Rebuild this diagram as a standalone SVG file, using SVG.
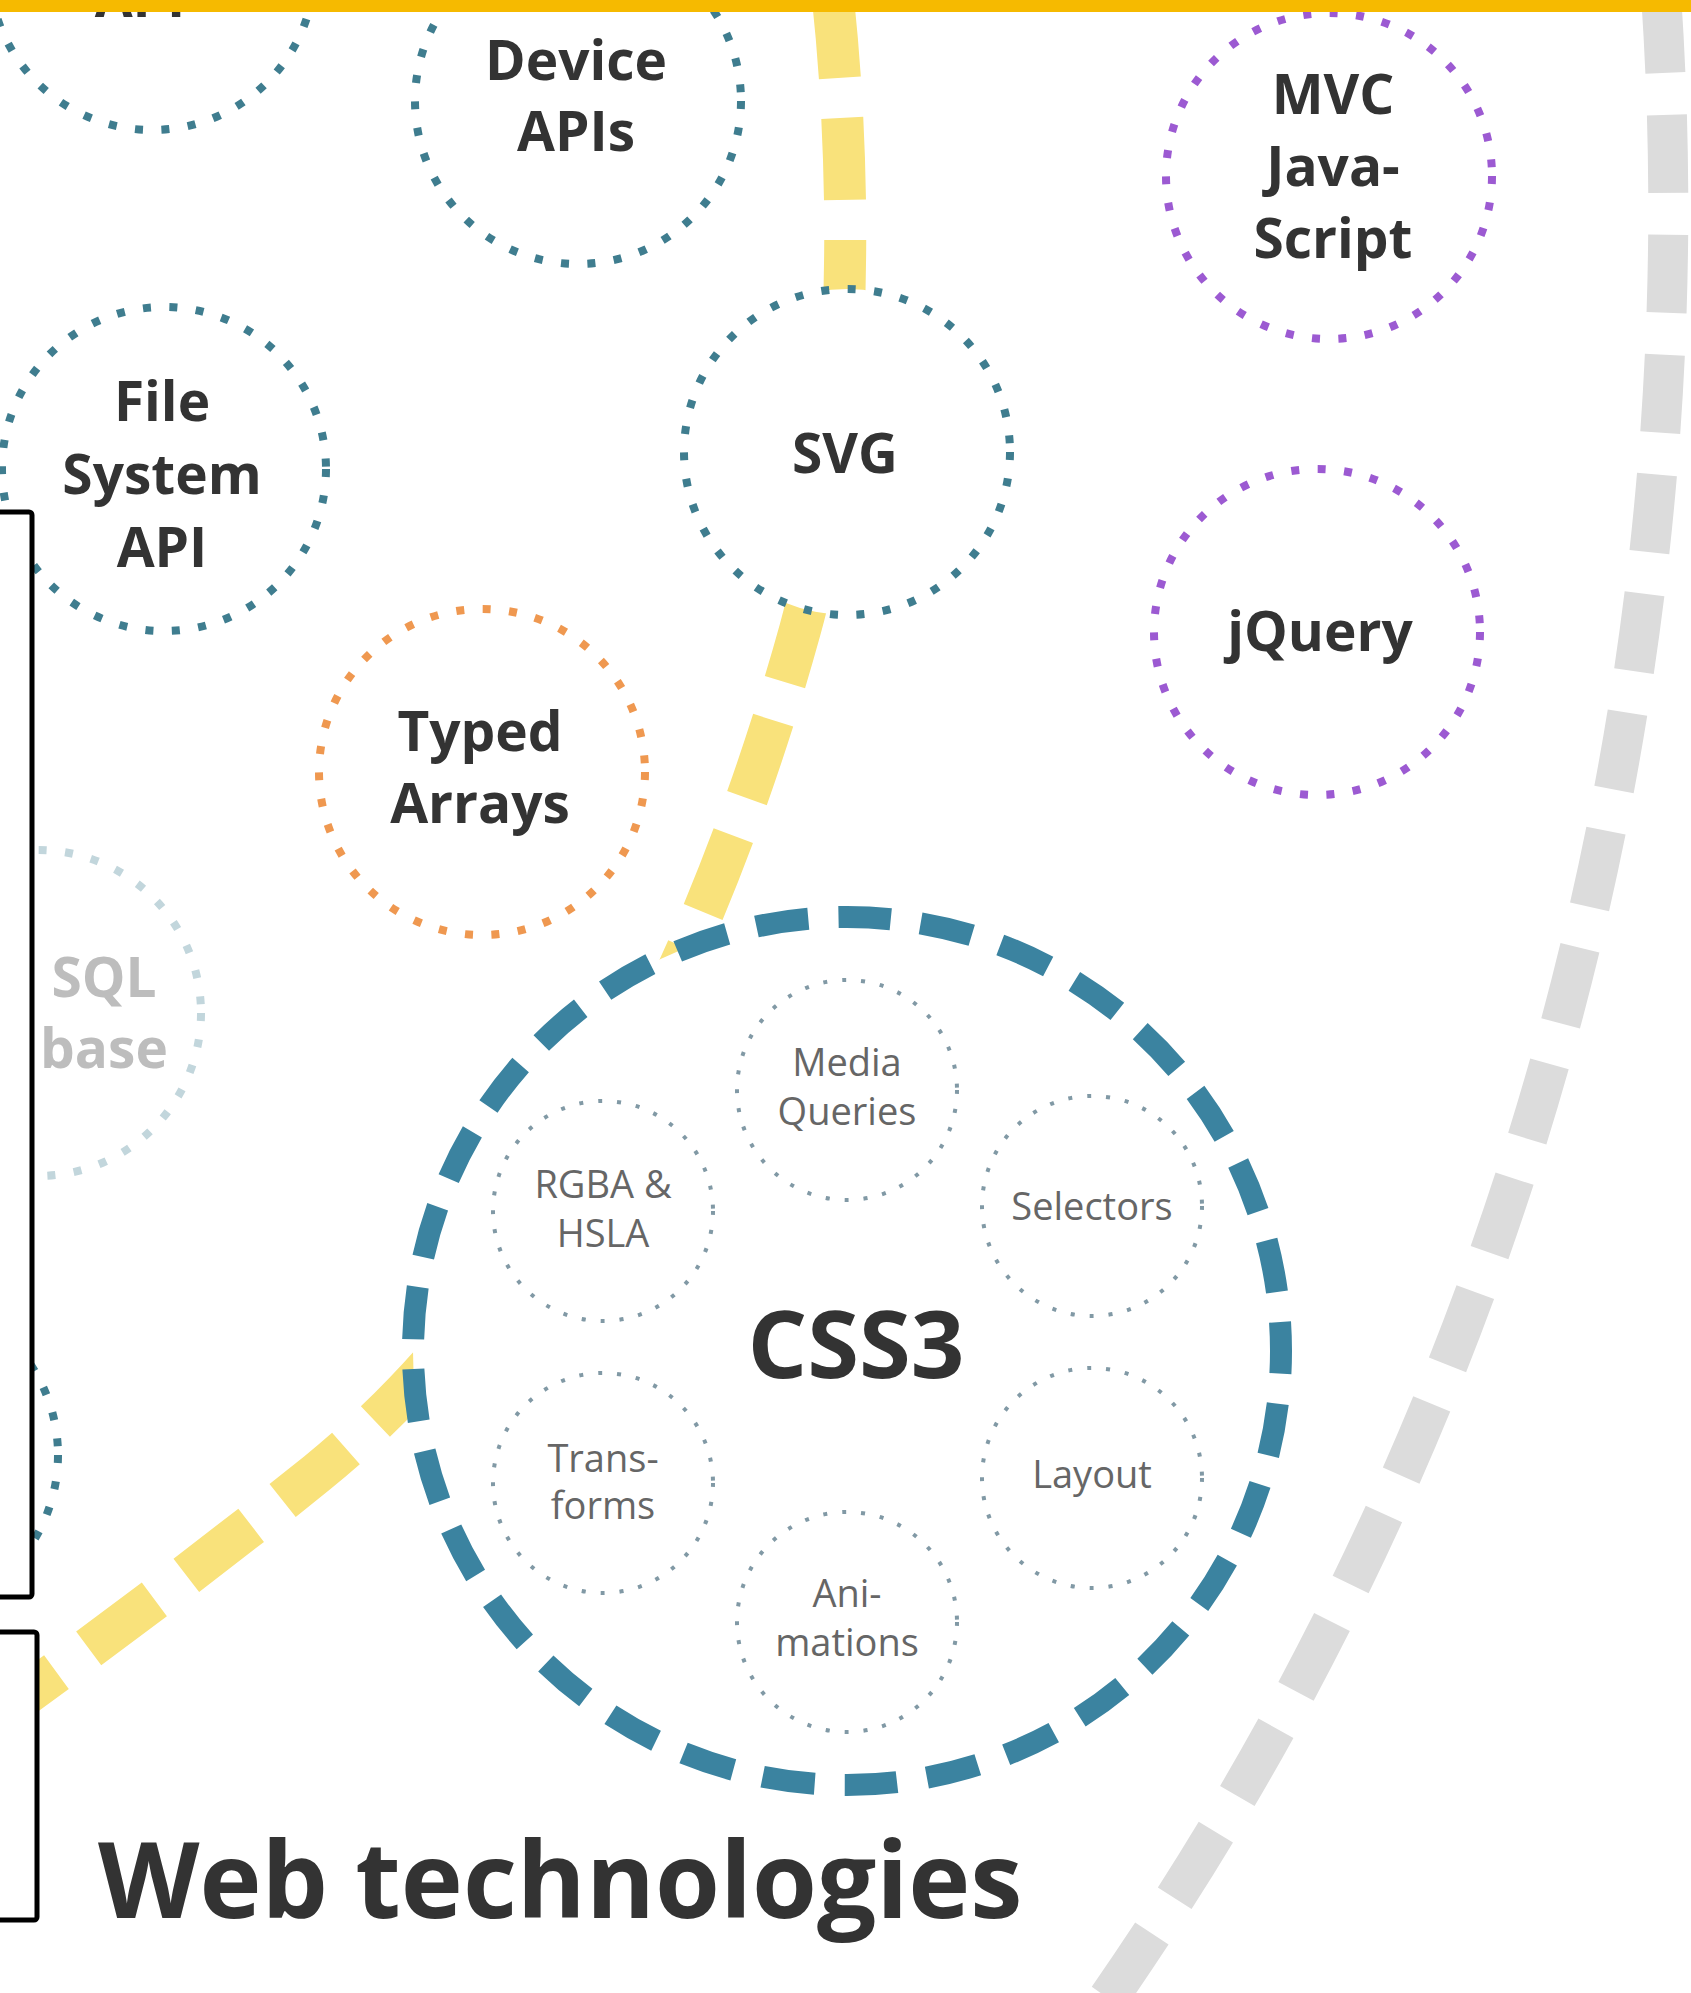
<svg xmlns="http://www.w3.org/2000/svg" width="1691" height="1993" viewBox="0 0 1691 1993">
<style>
.bg{fill:#ffffff}
.outer{fill:#ffffff;stroke-width:8;stroke-dasharray:8 18.5}
.teal{stroke:#3F7D8F}
.purple{stroke:#9C5AD2}
.orange{stroke:#EF9850}
.faded{stroke:#C2D6DC}
.inner{fill:#ffffff;stroke:#8199A5;stroke-width:4;stroke-dasharray:4 15}
.lbl{font-family:"Open Sans","Liberation Sans",sans-serif;font-weight:700;font-size:55px;fill:#333333;text-anchor:middle}
.fadedtxt{fill:#BDBDBD}
.sub{font-family:"Open Sans","Liberation Sans",sans-serif;font-weight:400;font-size:38px;fill:#666666;text-anchor:middle}
.mask{fill:#ffffff;stroke:#000000;stroke-width:5}
</style>
<rect class="bg" x="0" y="0" width="1691" height="1993"/>
<g id="connectors" fill="none">
  <path id="gray-arc" d="M 1660 -20 A 3141 3141 0 0 1 1100 2010" stroke="#DCDCDC" stroke-width="40" stroke-dasharray="78 42" stroke-dashoffset="-15"/>
  <path id="yellow-line" d="M 832 -10 C 850 150 858 420 800 630 C 720 919 566 1272 317 1473 C 239 1536 130 1620 -40 1742" stroke="#F9E27B" stroke-width="42" stroke-dasharray="82 40" stroke-dashoffset="-6.5"/>
</g>
<g id="node-api">
  <circle class="outer teal" cx="152" cy="-33" r="163"/>
  <text class="lbl" x="140" y="17">API</text>
</g>
<g id="node-device-apis">
  <circle class="outer teal" cx="578" cy="101" r="163"/>
  <text class="lbl"><tspan x="576" y="80">Device</tspan><tspan x="576" y="151">APIs</tspan></text>
</g>
<g id="node-mvc-javascript">
  <circle class="outer purple" cx="1329" cy="176" r="163"/>
  <text class="lbl"><tspan x="1333" y="114">MVC</tspan><tspan x="1333" y="186">Java-</tspan><tspan x="1333" y="258">Script</tspan></text>
</g>
<g id="node-file-system-api">
  <circle class="outer teal" cx="164" cy="469" r="162"/>
  <text class="lbl"><tspan x="162" y="421">File</tspan><tspan x="162" y="494">System</tspan><tspan x="162" y="567">API</tspan></text>
</g>
<g id="node-svg">
  <circle class="outer teal" cx="847" cy="452" r="163"/>
  <text class="lbl" x="845" y="473">SVG</text>
</g>
<g id="node-jquery">
  <circle class="outer purple" cx="1317" cy="632" r="163"/>
  <text class="lbl" x="1320" y="651">jQuery</text>
</g>
<g id="node-typed-arrays">
  <circle class="outer orange" cx="482" cy="772" r="163"/>
  <text class="lbl"><tspan x="480" y="751">Typed</tspan><tspan x="480" y="823">Arrays</tspan></text>
</g>
<g id="node-sql-database">
  <circle class="outer faded" cx="38" cy="1013" r="163"/>
  <text class="lbl fadedtxt"><tspan x="104" y="997">SQL</tspan><tspan x="104" y="1068">base</tspan></text>
</g>
<g id="node-lower-left">
  <circle class="outer teal" cx="-105" cy="1455" r="163"/>
</g>
<g id="node-css3">
  <circle cx="847" cy="1351" r="434" fill="#ffffff" stroke="#3B83A0" stroke-width="22" stroke-dasharray="52.5 30.13" stroke-dashoffset="29.7"/>
  <text class="lbl" x="856" y="1378" style="font-size:94px">CSS3</text>
  <g id="node-media-queries">
    <circle class="inner" cx="847" cy="1090" r="110"/>
    <text class="sub"><tspan x="847" y="1076">Media</tspan><tspan x="847" y="1125">Queries</tspan></text>
  </g>
  <g id="node-rgba-hsla">
    <circle class="inner" cx="603" cy="1211" r="110"/>
    <text class="sub"><tspan x="603" y="1198">RGBA &amp;</tspan><tspan x="603" y="1247">HSLA</tspan></text>
  </g>
  <g id="node-selectors">
    <circle class="inner" cx="1092" cy="1206" r="110"/>
    <text class="sub" x="1092" y="1220">Selectors</text>
  </g>
  <g id="node-transforms">
    <circle class="inner" cx="603" cy="1483" r="110"/>
    <text class="sub"><tspan x="603" y="1472">Trans-</tspan><tspan x="603" y="1519">forms</tspan></text>
  </g>
  <g id="node-layout">
    <circle class="inner" cx="1092" cy="1478" r="110"/>
    <text class="sub" x="1092" y="1488">Layout</text>
  </g>
  <g id="node-animations">
    <circle class="inner" cx="847" cy="1622" r="110"/>
    <text class="sub"><tspan x="847" y="1607">Ani-</tspan><tspan x="847" y="1656">mations</tspan></text>
  </g>
</g>
<text id="title" x="98" y="1918" style="font-family:'Open Sans','Liberation Sans',sans-serif;font-weight:700;font-size:105px;fill:#333333">Web technologies</text>
<g id="masks">
  <rect class="mask" x="-20" y="512" width="52" height="1085" rx="3"/>
  <rect class="mask" x="-20" y="1632" width="57" height="288" rx="3"/>
</g>
<rect id="top-bar" x="0" y="0" width="1691" height="12" fill="#F6BA00"/>
</svg>
